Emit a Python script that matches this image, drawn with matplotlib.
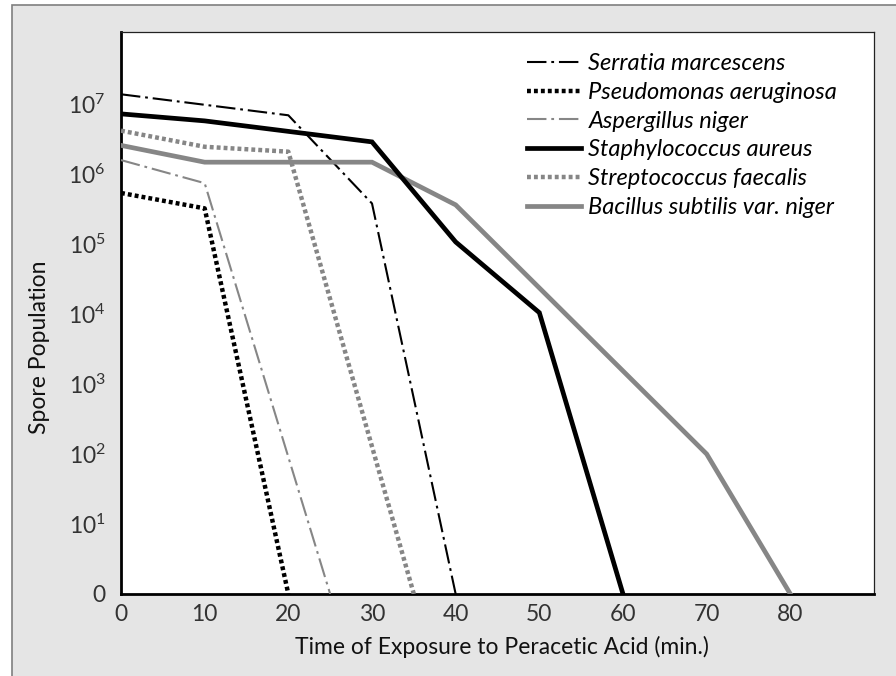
import matplotlib
matplotlib.use("Agg")
import matplotlib.pyplot as plt
from matplotlib.patches import Rectangle
import numpy as np

plt.rcParams['font.family'] = ['Lato', 'DejaVu Sans']
plt.rcParams['mathtext.fontset'] = 'custom'
plt.rcParams['mathtext.rm'] = 'Lato'
plt.rcParams['mathtext.it'] = 'Lato:italic'
plt.rcParams['lines.scale_dashes'] = False

# Data: time (min) and log10 of spore population (0 = none left)
serratia_t = [0, 20, 30, 40]
serratia_log = [7.14, 6.84, 5.58, 0]
pseudomonas_t = [0, 10, 20]
pseudomonas_log = [5.73, 5.51, 0]
aspergillus_t = [0, 10, 25]
aspergillus_log = [6.2, 5.87, 0]
staph_t = [0, 10, 20, 30, 40, 50, 60]
staph_log = [6.86, 6.76, 6.61, 6.46, 5.03, 4.02, 0]
strep_t = [0, 10, 20, 35]
strep_log = [6.62, 6.39, 6.32, 0]
bacillus_t = [0, 10, 20, 30, 40, 70, 80]
bacillus_log = [6.41, 6.17, 6.17, 6.17, 5.56, 2.0, 0]

labels = ["Serratia marcescens", "Pseudomonas aeruginosa", "Aspergillus niger",
          "Staphylococcus aureus", "Streptococcus faecalis", "Bacillus subtilis var. niger"]

xticks = [0, 10, 20, 30, 40, 50, 60, 70, 80]
yticks = [0, 1, 2, 3, 4, 5, 6, 7]
yticklabels = ["0"] + [r"$10^{%d}$" % k for k in range(1, 8)]

W, H = 896, 676
fig = plt.figure(figsize=(W / 100, H / 100), dpi=100, facecolor='white')
fig.patches.append(Rectangle((12 / W, -0.05), 1.2, 1 - 5 / H + 0.05, transform=fig.transFigure,
                             facecolor='#e5e5e5', edgecolor='#7f7f7f', lw=1.2, zorder=-10))

ax = fig.add_axes([121 / W, 1 - 594 / H, (874 - 121) / W, (594 - 32) / H])
ax.set_facecolor('white')

gray = '#868686'
dashdot = (0, (14, 3.5, 2, 3.5))
dots = (0, (2.8, 2.2))

l1, = ax.plot(serratia_t, serratia_log, color='black', lw=1.5, linestyle=dashdot, zorder=4)
l2, = ax.plot(pseudomonas_t, pseudomonas_log, color='black', lw=3.2, linestyle=dots,
              dash_capstyle='butt', zorder=3)
l3, = ax.plot(aspergillus_t, aspergillus_log, color=gray, lw=1.5, linestyle=dashdot, zorder=3)
l4, = ax.plot(staph_t, staph_log, color='black', lw=3.4, solid_joinstyle='miter', zorder=5)
l5, = ax.plot(strep_t, strep_log, color=gray, lw=3.2, linestyle=dots, dash_capstyle='butt', zorder=3)
l6, = ax.plot(bacillus_t, bacillus_log, color=gray, lw=3.4, solid_joinstyle='miter', zorder=4)

ax.set_xlim(0, 90)
ax.set_ylim(0, 8.03)
ax.set_xticks(xticks)
ax.set_xticklabels([str(v) for v in xticks])
ax.set_yticks(yticks)
ax.set_yticklabels(yticklabels)
ax.tick_params(axis='both', length=0, labelsize=16.5, labelcolor='#333333')
ax.tick_params(axis='x', pad=7)
ax.tick_params(axis='y', pad=11)

for s in ['left', 'bottom']:
    ax.spines[s].set_linewidth(2.0)
    ax.spines[s].set_color('black')
for s in ['top', 'right']:
    ax.spines[s].set_linewidth(0.9)
    ax.spines[s].set_color('#222222')

ax.set_xlabel("Time of Exposure to Peracetic Acid (min.)", fontsize=16.5, color='#111111')
ax.xaxis.set_label_coords((501.5 - 121) / 753, (594 - 647) / 562)
ax.xaxis.label.set_va('center')
ax.set_ylabel("Spore Population", fontsize=16.5, color='#111111')
ax.yaxis.set_label_coords((40 - 121) / 753, (594 - 347) / 562)
ax.yaxis.label.set_va('center')

leg = ax.legend([l1, l2, l3, l4, l5, l6], labels, loc='upper left',
                bbox_to_anchor=((527 - 121) / 753, (594 - 53) / 562),
                frameon=False, prop={'style': 'italic', 'size': 17},
                handlelength=2.3, handletextpad=0.3, labelspacing=0.33,
                borderpad=0, borderaxespad=0)

fig.savefig("out.png", dpi=100, facecolor=fig.get_facecolor())
